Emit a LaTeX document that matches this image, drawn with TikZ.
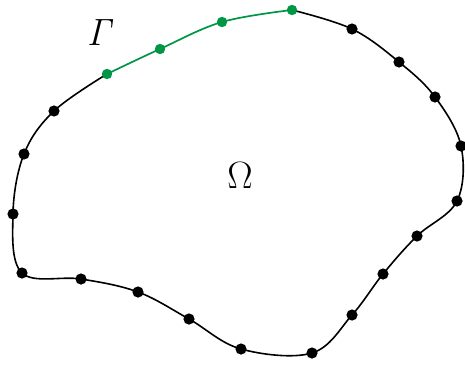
\documentclass[tikz,border=0pt]{standalone}
\usepackage{fix-cm}
\definecolor{bdgreen}{RGB}{0,150,70}

\begin{document}
\begin{tikzpicture}[
  x=0.5pt, y=-0.5pt,
  curve/.style={line width=0.8pt, black},
  gcurve/.style={line width=0.85pt, bdgreen},
  dot/.style={circle, fill=black, inner sep=0pt, minimum size=5.6pt},
  gdot/.style={circle, fill=bdgreen, inner sep=0pt, minimum size=5.2pt},
  lbl/.style={font=\fontsize{19}{22}\selectfont, inner sep=0pt}
]

\useasboundingbox (0,0) rectangle (465,364);

\foreach \px/\py [count=\i] in {292/10, 352/29, 399/62, 435/97, 461/146, 457/201,
    417/236, 383/274, 352/315, 312/353, 241/349, 189/319, 138/292, 81/279,
    22/273, 13/214, 24/154, 54/111, 107/74, 160/49, 222/22}
  \coordinate (p\i) at (\px,\py);

\draw[curve] plot[smooth, tension=0.6] coordinates {(p1) (p2) (p3) (p4) (p5) (p6)
  (p7) (p8) (p9) (p10) (p11) (p12) (p13) (p14) (p15) (p16) (p17) (p18) (p19)};
\draw[gcurve] plot[smooth, tension=0.6] coordinates {(p19) (p20) (p21) (p1)};

\foreach \i in {2,...,18}
  \node[dot] (d\i) at (p\i) {};
\foreach \i in {19,20,21,1}
  \node[gdot] (d\i) at (p\i) {};

\node[lbl] (gamma) at (101,33) {$\mathit{\Gamma}$};
\node[lbl] (omega) at (240,176) {$\Omega$};

\end{tikzpicture}
\end{document}
